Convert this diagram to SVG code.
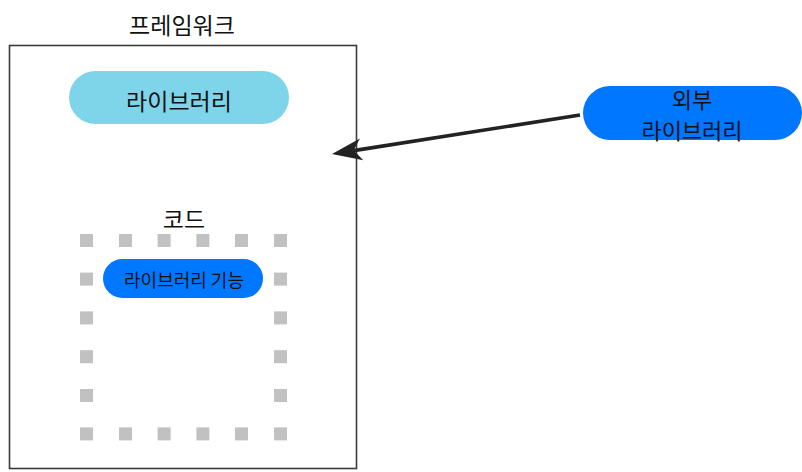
<svg xmlns="http://www.w3.org/2000/svg" width="802" height="472" viewBox="0 0 802 472">
<style>
text{font-family:"Noto Sans CJK KR","Noto Sans",sans-serif;fill:#111;text-anchor:middle;dominant-baseline:central}
.t21{font-size:23px}
.t22{font-size:22px}
.t18{font-size:18px}
.dot{fill:#c1c1c1}
</style>
<defs>
<marker id="arr" markerUnits="userSpaceOnUse" markerWidth="40" markerHeight="30" refX="8" refY="0" viewBox="-2 -15 36 30" orient="auto" overflow="visible">
<path d="M0,-11 L30,0 L0,11 L8,0 Z" fill="#222"/>
</marker>
</defs>
<rect width="802" height="472" fill="#fff"/>
<g id="framework">
<rect x="9.5" y="45.5" width="347" height="423" fill="#fff" stroke="#3a3a3a" stroke-width="1.6"/>
<text class="t21" x="182" y="24">프레임워크</text>
</g>
<g id="library">
<rect x="69" y="71" width="220" height="53" rx="26.5" fill="#7ed5ea"/>
<text class="t21" x="179" y="99.5">라이브러리</text>
</g>
<g id="code">
<text class="t21" x="184" y="218">코드</text>
<g class="dot">
<rect x="80" y="234" width="13" height="13"/><rect x="119" y="234" width="13" height="13"/><rect x="157.6" y="234" width="13" height="13"/><rect x="196.4" y="234" width="13" height="13"/><rect x="235" y="234" width="13" height="13"/><rect x="274" y="234" width="13" height="13"/>
<rect x="80" y="427.4" width="13" height="13"/><rect x="119" y="427.4" width="13" height="13"/><rect x="157.6" y="427.4" width="13" height="13"/><rect x="196.4" y="427.4" width="13" height="13"/><rect x="235" y="427.4" width="13" height="13"/><rect x="274" y="427.4" width="13" height="13"/>
<rect x="80" y="272.6" width="13" height="13"/><rect x="80" y="311.4" width="13" height="13"/><rect x="80" y="350.2" width="13" height="13"/><rect x="80" y="389" width="13" height="13"/>
<rect x="274" y="272.6" width="13" height="13"/><rect x="274" y="311.4" width="13" height="13"/><rect x="274" y="350.2" width="13" height="13"/><rect x="274" y="389" width="13" height="13"/>
</g>
</g>
<g id="library-feature">
<rect x="103" y="259" width="160" height="39" rx="19.5" fill="#0077ff"/>
<text class="t18" x="184" y="279">라이브러리 기능</text>
</g>
<g id="external-library">
<rect x="583" y="86" width="219" height="54" rx="27" fill="#0077ff"/>
<text class="t22" x="692" y="98">외부</text>
<text class="t22" x="692" y="128.5">라이브러리</text>
</g>
<g id="connectors">
<line x1="580" y1="115" x2="353.7" y2="150.6" stroke="#222" stroke-width="3.6" marker-end="url(#arr)"/>
</g>
</svg>
